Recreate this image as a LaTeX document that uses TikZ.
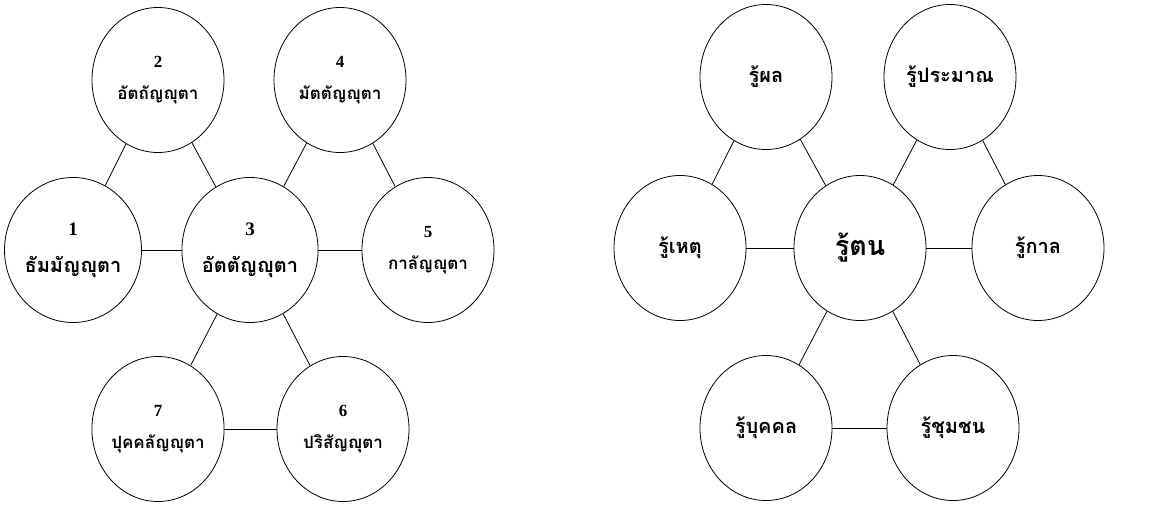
\documentclass[tikz,border=0pt]{standalone}
\usepackage{fontspec}
\usetikzlibrary{shapes.geometric}
\newfontfamily\thai[Script=Thai]{Loma}
\newfontfamily\numf{Liberation Serif}
\tikzset{
  circ/.style={draw, ellipse, minimum width=132pt, minimum height=145pt, inner sep=0pt, line width=0.8pt, align=center},
  big/.style={font=\thai\bfseries\fontsize{20}{22}\selectfont},
  small/.style={font=\thai\bfseries\fontsize{17}{19}\selectfont},
  rbig/.style={font=\thai\bfseries\fontsize{27}{30}\selectfont},
  rsmall/.style={font=\thai\bfseries\fontsize{20}{22}\selectfont},
  link/.style={line width=0.8pt}
}
\newcommand{\nbig}[1]{{\numf\bfseries\fontsize{19}{20}\selectfont #1}}
\newcommand{\nsmall}[1]{{\numf\bfseries\fontsize{17}{18}\selectfont #1}}
\begin{document}
\begin{tikzpicture}[x=1pt,y=-1pt]
\useasboundingbox (0,0) rectangle (1156,504);
% left diagram
\node[circ,big]   (l1) at (73,250)  {\nbig{1}\\[15pt]ธัมมัญญุตา};
\node[circ,small] (l2) at (158,80)  {\nsmall{2}\\[13pt]อัตถัญญุตา};
\node[circ,big]   (l3) at (250,250) {\nbig{3}\\[15pt]อัตตัญญุตา};
\node[circ,small] (l4) at (340,80)  {\nsmall{4}\\[13pt]มัตตัญญุตา};
\node[circ,small] (l5) at (428,250) {\nsmall{5}\\[13pt]กาลัญญุตา};
\node[circ,small] (l6) at (343,429) {\nsmall{6}\\[13pt]ปริสัญญุตา};
\node[circ,small] (l7) at (158,429) {\nsmall{7}\\[13pt]ปุคคลัญญุตา};
\draw[link] (l2) -- (l1);
\draw[link] (l2) -- (l3);
\draw[link] (l4) -- (l3);
\draw[link] (l4) -- (l5);
\draw[link] (l1) -- (l3);
\draw[link] (l3) -- (l5);
\draw[link] (l3) -- (l7);
\draw[link] (l3) -- (l6);
\draw[link] (l7) -- (l6);
% right diagram
\node[circ,rsmall] (r1) at (680,248) {รู้เหตุ};
\node[circ,rsmall] (r2) at (766,77)  {รู้ผล};
\node[circ,rbig]   (r3) at (860,248) {รู้ตน};
\node[circ,rsmall] (r4) at (950,77)  {รู้ประมาณ};
\node[circ,rsmall] (r5) at (1038,248) {รู้กาล};
\node[circ,rsmall] (r6) at (953,428) {รู้ชุมชน};
\node[circ,rsmall] (r7) at (766,428) {รู้บุคคล};
\draw[link] (r2) -- (r1);
\draw[link] (r2) -- (r3);
\draw[link] (r4) -- (r3);
\draw[link] (r4) -- (r5);
\draw[link] (r1) -- (r3);
\draw[link] (r3) -- (r5);
\draw[link] (r3) -- (r7);
\draw[link] (r3) -- (r6);
\draw[link] (r7) -- (r6);
\end{tikzpicture}
\end{document}
